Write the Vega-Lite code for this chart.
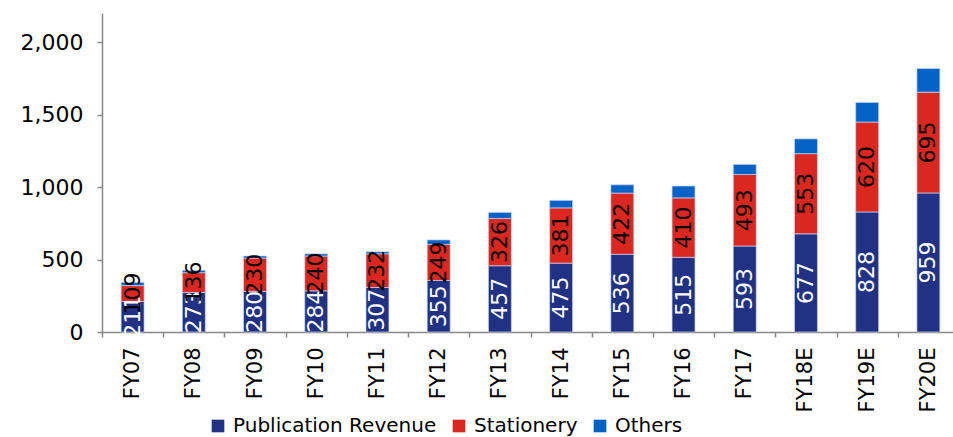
{
  "$schema": "https://vega.github.io/schema/vega-lite/v6.json",
  "width": 851,
  "height": 319,
  "autosize": {"type": "none"},
  "padding": {"left": 102, "top": 13, "right": 0, "bottom": 105},
  "config": {
    "view": {"stroke": null},
    "font": "DejaVu Sans"
  },
  "data": {
    "values": [
      {"year": "FY07", "series": "Publication Revenue", "ord": 1, "value": 211},
      {"year": "FY07", "series": "Stationery", "ord": 2, "value": 109},
      {"year": "FY07", "series": "Others", "ord": 3, "value": 22},
      {"year": "FY08", "series": "Publication Revenue", "ord": 1, "value": 273},
      {"year": "FY08", "series": "Stationery", "ord": 2, "value": 136},
      {"year": "FY08", "series": "Others", "ord": 3, "value": 16},
      {"year": "FY09", "series": "Publication Revenue", "ord": 1, "value": 280},
      {"year": "FY09", "series": "Stationery", "ord": 2, "value": 230},
      {"year": "FY09", "series": "Others", "ord": 3, "value": 14},
      {"year": "FY10", "series": "Publication Revenue", "ord": 1, "value": 284},
      {"year": "FY10", "series": "Stationery", "ord": 2, "value": 240},
      {"year": "FY10", "series": "Others", "ord": 3, "value": 15},
      {"year": "FY11", "series": "Publication Revenue", "ord": 1, "value": 307},
      {"year": "FY11", "series": "Stationery", "ord": 2, "value": 232},
      {"year": "FY11", "series": "Others", "ord": 3, "value": 14},
      {"year": "FY12", "series": "Publication Revenue", "ord": 1, "value": 355},
      {"year": "FY12", "series": "Stationery", "ord": 2, "value": 249},
      {"year": "FY12", "series": "Others", "ord": 3, "value": 31},
      {"year": "FY13", "series": "Publication Revenue", "ord": 1, "value": 457},
      {"year": "FY13", "series": "Stationery", "ord": 2, "value": 326},
      {"year": "FY13", "series": "Others", "ord": 3, "value": 42},
      {"year": "FY14", "series": "Publication Revenue", "ord": 1, "value": 475},
      {"year": "FY14", "series": "Stationery", "ord": 2, "value": 381},
      {"year": "FY14", "series": "Others", "ord": 3, "value": 52},
      {"year": "FY15", "series": "Publication Revenue", "ord": 1, "value": 536},
      {"year": "FY15", "series": "Stationery", "ord": 2, "value": 422},
      {"year": "FY15", "series": "Others", "ord": 3, "value": 57},
      {"year": "FY16", "series": "Publication Revenue", "ord": 1, "value": 515},
      {"year": "FY16", "series": "Stationery", "ord": 2, "value": 410},
      {"year": "FY16", "series": "Others", "ord": 3, "value": 82},
      {"year": "FY17", "series": "Publication Revenue", "ord": 1, "value": 593},
      {"year": "FY17", "series": "Stationery", "ord": 2, "value": 493},
      {"year": "FY17", "series": "Others", "ord": 3, "value": 70},
      {"year": "FY18E", "series": "Publication Revenue", "ord": 1, "value": 677},
      {"year": "FY18E", "series": "Stationery", "ord": 2, "value": 553},
      {"year": "FY18E", "series": "Others", "ord": 3, "value": 102},
      {"year": "FY19E", "series": "Publication Revenue", "ord": 1, "value": 828},
      {"year": "FY19E", "series": "Stationery", "ord": 2, "value": 620},
      {"year": "FY19E", "series": "Others", "ord": 3, "value": 135},
      {"year": "FY20E", "series": "Publication Revenue", "ord": 1, "value": 959},
      {"year": "FY20E", "series": "Stationery", "ord": 2, "value": 695},
      {"year": "FY20E", "series": "Others", "ord": 3, "value": 163}
    ]
  },
  "encoding": {
    "x": {
      "field": "year",
      "type": "nominal",
      "sort": null,
      "scale": {"paddingInner": 0, "paddingOuter": 0, "range": [0, 857]},
      "axis": {
        "title": null,
        "labelAngle": -90,
        "labelFontSize": 21,
        "labelColor": "#000000",
        "labelPadding": 10,
        "tickBand": "extent",
        "tickLength": 6,
        "tickColor": "#888888",
        "domainColor": "#888888",
        "domainWidth": 1.5,
        "tickWidth": 1.5
      }
    },
    "y": {
      "field": "value",
      "type": "quantitative",
      "stack": "zero",
      "scale": {"domain": [0, 2200], "nice": false},
      "axis": {
        "title": null,
        "values": [0, 500, 1000, 1500, 2000],
        "format": ",.0f",
        "grid": false,
        "labelFontSize": 22,
        "labelColor": "#000000",
        "labelPadding": 14,
        "tickLength": 6,
        "tickColor": "#888888",
        "domainColor": "#888888",
        "domainWidth": 1.5,
        "tickWidth": 1.5
      }
    },
    "order": {"field": "ord", "type": "quantitative"}
  },
  "layer": [
    {
      "mark": {"type": "bar", "width": {"band": 0.375}, "stroke": "#c8d4ee", "strokeWidth": 0.7},
      "encoding": {
        "color": {
          "field": "series",
          "type": "nominal",
          "scale": {
            "domain": ["Publication Revenue", "Stationery", "Others"],
            "range": ["#213284", "#DA2720", "#0563C8"]
          },
          "legend": {
            "title": null,
            "orient": "none",
            "legendX": 106,
            "legendY": 403,
            "direction": "horizontal",
            "columns": 3,
            "symbolType": "square",
            "symbolSize": 160,
            "symbolStrokeWidth": 0,
            "labelFontSize": 20,
            "labelColor": "#000000",
            "labelOffset": 5,
            "columnPadding": 12,
            "labelLimit": 400
          }
        }
      }
    },
    {
      "transform": [{"filter": "datum.series !== 'Others'"}],
      "mark": {"type": "text", "angle": -90, "align": "center", "baseline": "middle", "fontSize": 22},
      "encoding": {
        "y": {"field": "value", "type": "quantitative", "stack": "zero", "bandPosition": 0.5},
        "text": {"field": "value", "type": "quantitative"},
        "color": {
          "condition": {"test": "datum.series === 'Publication Revenue'", "value": "#ffffff"},
          "value": "#000000"
        }
      }
    }
  ]
}
